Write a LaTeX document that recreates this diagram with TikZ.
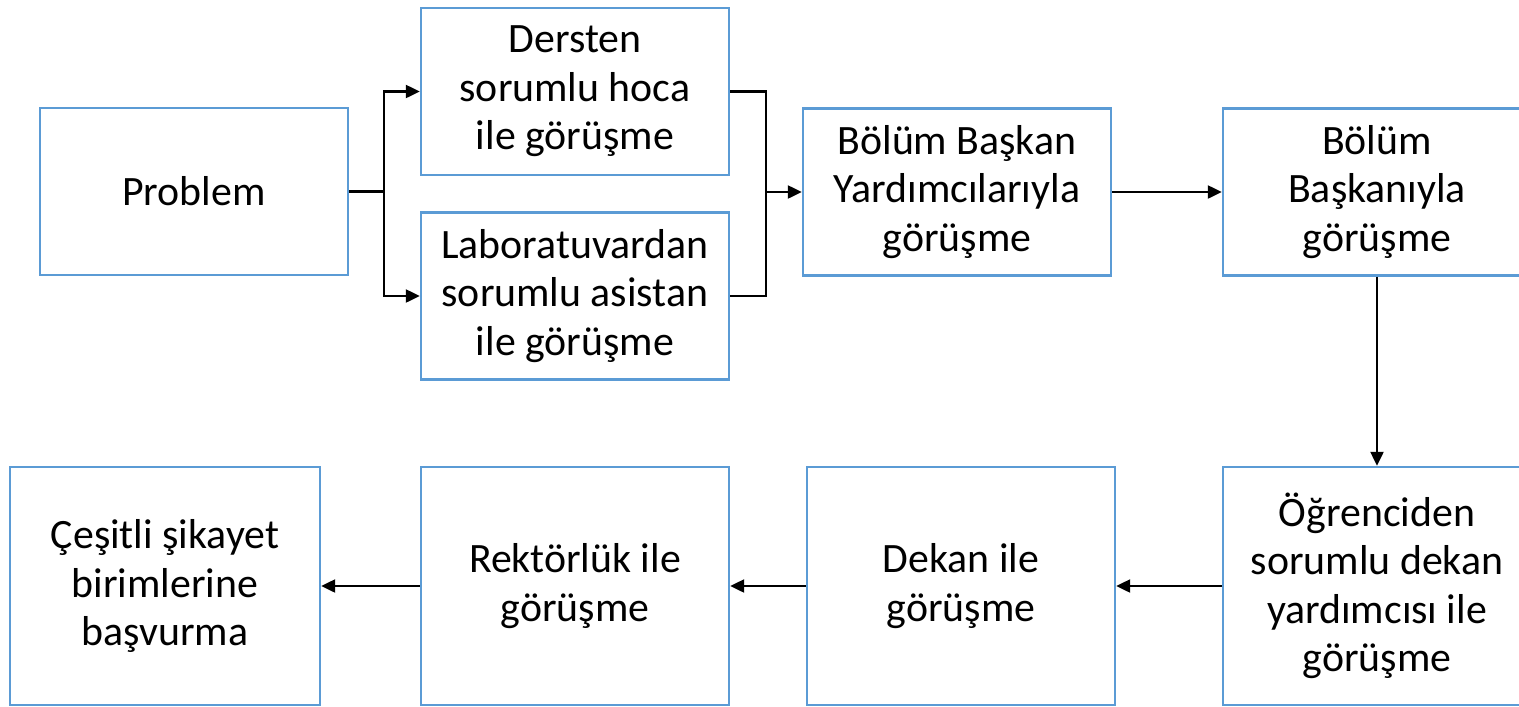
\documentclass[tikz,border=0pt]{standalone}
\usepackage{fontspec}
\setmainfont{Carlito}
\usetikzlibrary{arrows.meta}
\definecolor{boxblue}{RGB}{91,155,213}
\tikzset{
  stagebox/.style={draw=boxblue, line width=1.4pt, fill=white,
    minimum width=6.16cm, minimum height=3.34cm, align=center,
    inner sep=0pt, font=\fontsize{23.8}{27.6}\selectfont},
  tallbox/.style={stagebox, minimum height=4.76cm},
  flow/.style={line width=1.3pt, -{Triangle[length=0.28cm, width=0.26cm]}}
}
\begin{document}
\begin{tikzpicture}[x=0.02cm, y=-0.02cm]
  \useasboundingbox (0,0) rectangle (1519,707);

  % Upper row
  \node[stagebox] (prob) at (194,191.5) {Problem};
  \node[stagebox] (ders) at (575,91.5) {Dersten\\sorumlu hoca\\ile görüşme};
  \node[stagebox] (lab) at (575,296) {Laboratuvardan\\sorumlu asistan\\ile görüşme};
  \node[stagebox] (bby) at (957,192) {Bölüm Başkan\\Yardımcılarıyla\\görüşme};
  \node[stagebox] (bb) at (1377,192) {Bölüm\\Başkanıyla\\görüşme};

  % Lower row
  \node[tallbox] (ogr) at (1377,586) {Öğrenciden\\sorumlu dekan\\yardımcısı ile\\görüşme};
  \node[tallbox] (dek) at (961,586) {Dekan ile\\görüşme};
  \node[tallbox] (rek) at (575,586) {Rektörlük ile\\görüşme};
  \node[tallbox, minimum width=6.2cm] (ces) at (165,586) {Çeşitli şikayet\\birimlerine\\başvurma};

  % Split and join points
  \coordinate (split) at (384,191.5);
  \coordinate (join) at (766,192);

  % Connectors
  \draw[line width=1.3pt] (prob.east) -- (split);
  \draw[flow] (split) |- (ders.west);
  \draw[flow] (split) |- (lab.west);
  \draw[line width=1.3pt] (ders.east) -| (join) |- (lab.east);
  \draw[flow] (join) -- (bby.west);
  \draw[flow] (bby.east) -- (bb.west);
  \draw[flow] (bb.south) -- (ogr.north);
  \draw[flow] (ogr.west) -- (dek.east);
  \draw[flow] (dek.west) -- (rek.east);
  \draw[flow] (rek.west) -- (ces.east);
\end{tikzpicture}
\end{document}
